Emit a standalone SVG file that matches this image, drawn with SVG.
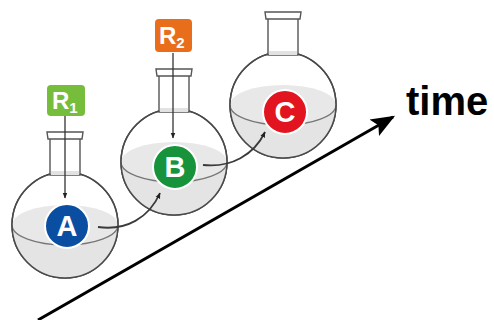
<svg xmlns="http://www.w3.org/2000/svg" width="494" height="320" viewBox="0 0 494 320">
  <style>
    .bowl { fill: #ffffff; stroke: #4a4a4a; stroke-width: 1.5; }
    .liquid { fill: #e4e4e4; }
    .surface { fill: #e8e8e8; }
    .front { fill: none; stroke: #777777; stroke-width: 1.3; }
    .neck { fill: #ffffff; stroke: #555555; stroke-width: 1.4; }
    .neckshade { fill: #e2e2e2; }
    .badge { stroke: #ffffff; stroke-width: 2; }
    .badgetext { font-family: "Liberation Sans", Arial, sans-serif; font-weight: bold; font-size: 29px; fill: #ffffff; text-anchor: middle; }
    .rtext { font-family: "Liberation Sans", Arial, sans-serif; font-weight: bold; font-size: 24px; fill: #ffffff; }
    .feed { fill: none; stroke: #333333; stroke-width: 1.3; }
    .link { fill: none; stroke: #3a3a3a; stroke-width: 1.8; }
  </style>
  <defs>
    <marker id="tip" viewBox="0 0 10 10" refX="9" refY="5" markerWidth="6" markerHeight="6" orient="auto" markerUnits="userSpaceOnUse">
      <path d="M0,1 L10,5 L0,9 Z" fill="#222222"/>
    </marker>
    <marker id="tipBig" viewBox="0 0 10 10" refX="9" refY="5" markerWidth="8" markerHeight="8" orient="auto">
      <path d="M0,1 L10,5 L0,9 L2,5 Z" fill="#000000"/>
    </marker>
    <clipPath id="ball">
      <circle cx="0" cy="0" r="53"/>
    </clipPath>
    <!-- round-bottom flask, centred on the bowl -->
    <g id="flask">
      <circle class="bowl" cx="0" cy="0" r="53"/>
      <g clip-path="url(#ball)">
        <rect class="liquid" x="-60" y="0" width="120" height="60"/>
        <ellipse class="surface" cx="0" cy="0" rx="53" ry="20"/>
        <path class="front" d="M-53,0 A53,20 0 0 0 53,0"/>
      </g>
      <circle cx="0" cy="0" r="53" fill="none" stroke="#4a4a4a" stroke-width="1.5"/>
      <path class="neck" d="M-15,-86 L-15,-50 L15,-50 L15,-86"/>
      <rect class="neckshade" x="-14" y="-54" width="28" height="4"/>
      <path class="neck" d="M-18,-93 L18,-93 L17,-86 L-17,-86 Z"/>
    </g>
  </defs>

  <!-- time axis -->
  <g id="axis">
    <line x1="38" y1="320" x2="393" y2="117" stroke="#000000" stroke-width="3" marker-end="url(#tipBig)"/>
    <text x="406" y="115" font-family="'Liberation Sans', Arial, sans-serif" font-weight="bold" font-size="40" fill="#000000">time</text>
  </g>

  <!-- flasks -->
  <g id="flask-A">
    <use href="#flask" transform="translate(65,225)"/>
  </g>
  <g id="flask-B">
    <use href="#flask" transform="translate(174,162)"/>
  </g>
  <g id="flask-C">
    <use href="#flask" transform="translate(283,105)"/>
  </g>

  <!-- connectors -->
  <g id="connectors">
    <line class="feed" x1="65" y1="115" x2="65" y2="198" marker-end="url(#tip)"/>
    <line class="feed" x1="173" y1="53" x2="173" y2="138" marker-end="url(#tip)"/>
    <path class="link" d="M98,227 C126,231 149,218 160,193" marker-end="url(#tip)"/>
    <path class="link" d="M203,165 C231,168 254,155 265,132" marker-end="url(#tip)"/>
  </g>

  <!-- reagents -->
  <g id="R1">
    <rect x="47" y="85" width="38" height="31" rx="4" fill="#76bd3c"/>
    <text class="rtext" x="52" y="109">R<tspan font-size="15" dy="4">1</tspan></text>
  </g>
  <g id="R2">
    <rect x="155" y="19" width="37" height="33" rx="4" fill="#e86e1c"/>
    <text class="rtext" x="159" y="44">R<tspan font-size="15" dy="4">2</tspan></text>
  </g>

  <!-- species -->
  <g id="A">
    <circle class="badge" cx="67" cy="226" r="22" fill="#0a4ea2"/>
    <text class="badgetext" x="67" y="236">A</text>
  </g>
  <g id="B">
    <circle class="badge" cx="175" cy="167" r="22" fill="#16933b"/>
    <text class="badgetext" x="175" y="177">B</text>
  </g>
  <g id="C">
    <circle class="badge" cx="285" cy="112" r="22" fill="#e2141f"/>
    <text class="badgetext" x="285" y="122">C</text>
  </g>
</svg>
